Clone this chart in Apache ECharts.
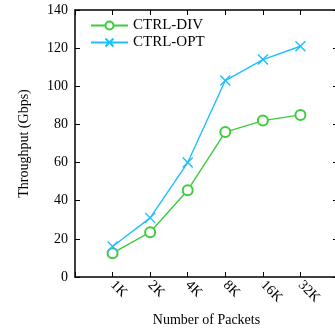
<!DOCTYPE html>
<html>
<head>
<meta charset="utf-8">
<script src="https://cdn.jsdelivr.net/npm/echarts@6/dist/echarts.min.js"></script>
<style>
html,body{margin:0;padding:0;background:#fff;}
#c{width:335px;height:330px;}
</style>
</head>
<body>
<div id="c"></div>
<script>
const categories = ['1K', '2K', '4K', '8K', '16K', '32K'];
const ctrlDiv = [12.5, 23.5, 45.5, 76, 82, 85];
const ctrlOpt = [16, 31, 60, 103, 114, 121];
const yTicks = [0, 20, 40, 60, 80, 100, 120, 140];

const FONT = 'Liberation Serif';
const GREEN = '#3dcc3d';
const BLUE = '#1ebeff';
const crossPath = 'path://M0,0L10,10M10,0L0,10';

const chart = echarts.init(document.getElementById('c'), null, {renderer: 'canvas'});
const toPts = arr => arr.map((v, i) => [i + 1, v]);

const tick = () => ({show: true, inside: true, length: 5, lineStyle: {color: '#000', width: 1}});
const axLine = () => ({show: true, onZero: false, lineStyle: {color: '#000', width: 1.5}});

chart.setOption({
  animation: false,
  backgroundColor: '#fff',
  textStyle: {fontFamily: FONT},
  grid: {left: 75, top: 10, width: 263, height: 267, containLabel: false, outerBoundsMode: 'none'},
  legend: {
    left: 90, top: 18, orient: 'vertical', padding: 0,
    itemWidth: 37, itemHeight: 10, itemGap: 2,
    textStyle: {fontFamily: FONT, fontSize: 15, color: '#000'},
    data: ['CTRL-DIV', 'CTRL-OPT']
  },
  xAxis: [{
    type: 'value', min: 0, max: categories.length + 1, interval: 1,
    position: 'bottom',
    name: 'Number of Packets', nameLocation: 'middle', nameGap: 36,
    nameTextStyle: {fontFamily: FONT, fontSize: 14, color: '#000'},
    axisLine: axLine(), axisTick: tick(), splitLine: {show: false},
    axisLabel: {
      rotate: -45, margin: 6, fontFamily: FONT, fontSize: 14, color: '#000',
      formatter: v => categories[v - 1] || ''
    }
  }, {
    type: 'value', min: 0, max: categories.length + 1, interval: 1,
    position: 'top',
    axisLine: axLine(), axisTick: tick(), splitLine: {show: false},
    axisLabel: {show: false}
  }],
  yAxis: [{
    type: 'value', min: yTicks[0], max: yTicks[yTicks.length - 1], interval: 20,
    position: 'left',
    name: 'Throughput (Gbps)', nameLocation: 'middle', nameGap: 44,
    nameTextStyle: {fontFamily: FONT, fontSize: 14, color: '#000'},
    axisLine: axLine(), axisTick: tick(), splitLine: {show: false},
    axisLabel: {margin: 7, fontFamily: FONT, fontSize: 14, color: '#000'}
  }, {
    type: 'value', min: yTicks[0], max: yTicks[yTicks.length - 1], interval: 20,
    position: 'right',
    axisLine: axLine(), axisTick: tick(), splitLine: {show: false},
    axisLabel: {show: false}
  }],
  series: [{
    name: 'CTRL-DIV', type: 'line', data: toPts(ctrlDiv),
    symbol: 'emptyCircle', symbolSize: 10,
    lineStyle: {color: GREEN, width: 1.4},
    itemStyle: {color: GREEN, borderColor: GREEN, borderWidth: 1.4}
  }, {
    name: 'CTRL-OPT', type: 'line', data: toPts(ctrlOpt),
    symbol: crossPath, symbolSize: 10,
    lineStyle: {color: BLUE, width: 1.4},
    itemStyle: {color: BLUE, borderColor: BLUE, borderWidth: 1.4}
  }]
});
</script>
</body>
</html>
